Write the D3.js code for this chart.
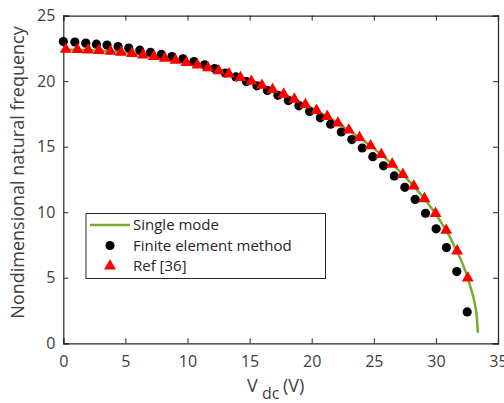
<!DOCTYPE html>
<html>
<head>
<meta charset="utf-8">
<script src="https://cdn.jsdelivr.net/npm/d3@7"></script>
<style>
  body { margin: 0; background: #fff; }
  svg { display: block; font-family: "Open Sans", sans-serif; }
</style>
</head>
<body>
<svg id="chart" width="504" height="403"></svg>
<script>
// Single mode curve (green line)
const singleV = [0, 2, 4, 6, 8, 10, 12, 14, 16, 18, 20, 22, 24, 25, 26, 27, 28, 29, 30, 31, 32, 32.5, 33, 33.2, 33.3, 33.38];
const singleF = [22.42, 22.38, 22.26, 22.06, 21.77, 21.39, 20.92, 20.36, 19.68, 18.89, 17.96, 16.87, 15.59, 14.87, 14.07, 13.2, 12.22, 11.12, 9.86, 8.35, 6.42, 5.2, 3.6, 2.7, 2.0, 0.8];

// Finite element method (black dots)
const femV = [0, 0.93, 1.81, 2.67, 3.52, 4.41, 5.27, 6.16, 7.02, 7.9, 8.75, 9.64, 10.52, 11.38, 12.19, 13.05, 13.9, 14.74, 15.59, 16.43,
  17.28, 18.12, 18.97, 19.83, 20.69, 21.52, 22.38, 23.23, 24.07, 24.92, 25.78, 26.65, 27.5, 28.33, 29.16, 30.02, 30.85, 31.68, 32.52];
const femF = [23.02, 22.98, 22.9, 22.82, 22.75, 22.64, 22.52, 22.36, 22.2, 22.04, 21.88, 21.7, 21.5, 21.25, 20.96, 20.62, 20.32, 19.97, 19.64, 19.28,
  18.92, 18.52, 18.12, 17.68, 17.2, 16.72, 16.12, 15.54, 14.9, 14.24, 13.54, 12.77, 11.9, 10.98, 9.92, 8.73, 7.3, 5.47, 2.39];

// Ref [36] (red triangles)
const refV = [0.2, 1.14, 2.0, 2.88, 3.8, 4.65, 5.53, 6.42, 7.3, 8.17, 9.03, 9.91, 10.8, 11.65, 12.51, 13.34, 14.26, 15.14, 15.99,
  16.85, 17.74, 18.6, 19.49, 20.39, 21.25, 22.11, 22.99, 23.85, 24.74, 25.6, 26.48, 27.34, 28.22, 29.08, 29.97, 30.83, 31.71, 32.57];
const refF = [22.42, 22.41, 22.38, 22.34, 22.27, 22.2, 22.11, 22.0, 21.88, 21.74, 21.59, 21.41, 21.22, 21.01, 20.79, 20.55, 20.27, 19.98, 19.68,
  19.36, 19.0, 18.62, 18.21, 17.76, 17.3, 16.8, 16.26, 15.69, 15.06, 14.4, 13.66, 12.88, 11.99, 11.03, 9.9, 8.62, 7.04, 4.97];

const xTicks = [0, 5, 10, 15, 20, 25, 30, 35];
const yTicks = [0, 5, 10, 15, 20, 25];
const legendLabels = ["Single mode", "Finite element method", "Ref [36]"];

const svg = d3.select("#chart");
const plotLeft = 63.3, plotRight = 498, plotTop = 15.6, plotBottom = 343.3;

const x = d3.scaleLinear().domain([0, 35]).range([plotLeft, plotRight]);
const y = d3.scaleLinear().domain([0, 25]).range([plotBottom, plotTop]);

const axisColor = "#262626";
const labelColor = "#404040";

// axes (ticks inward, box)
const tickLen = 5;
const gx = svg.append("g").attr("transform", `translate(0,${plotBottom})`)
  .call(d3.axisBottom(x).tickValues(xTicks).tickSize(-tickLen).tickPadding(12));
const gxTop = svg.append("g").attr("transform", `translate(0,${plotTop})`)
  .call(d3.axisTop(x).tickValues(xTicks).tickSize(-tickLen).tickFormat(""));
const gy = svg.append("g").attr("transform", `translate(${plotLeft},0)`)
  .call(d3.axisLeft(y).tickValues(yTicks).tickSize(-tickLen).tickPadding(8));
const gyRight = svg.append("g").attr("transform", `translate(${plotRight},0)`)
  .call(d3.axisRight(y).tickValues(yTicks).tickSize(-tickLen).tickFormat(""));

[gx, gxTop, gy, gyRight].forEach(g => {
  g.select(".domain").attr("stroke", axisColor).attr("stroke-width", 1.2);
  g.selectAll(".tick line").attr("stroke", axisColor).attr("stroke-width", 1);
  g.selectAll(".tick text").attr("fill", labelColor)
    .style("font-size", "16px").style("font-family", "Open Sans, sans-serif");
});
gx.selectAll(".tick text").attr("dy", "0.71em");
svg.selectAll(".domain").attr("stroke-linecap", "square");

// data series
const line = d3.line().x(d => x(d[0])).y(d => y(d[1]));
svg.append("path")
  .datum(d3.zip(singleV, singleF))
  .attr("d", line)
  .attr("fill", "none")
  .attr("stroke", "#77AC30")
  .attr("stroke-width", 2.5);

svg.append("g").selectAll("circle")
  .data(d3.zip(femV, femF))
  .join("circle")
  .attr("cx", d => x(d[0]))
  .attr("cy", d => y(d[1]))
  .attr("r", 4.6)
  .attr("fill", "#000");

const tri = d3.symbol().type(d3.symbolTriangle).size(62);
svg.append("g").selectAll("path")
  .data(d3.zip(refV, refF))
  .join("path")
  .attr("d", tri)
  .attr("transform", d => `translate(${x(d[0])},${y(d[1])})`)
  .attr("fill", "#ff0000");

// legend
const lg = svg.append("g");
lg.append("rect")
  .attr("x", 86).attr("y", 213.5).attr("width", 239.5).attr("height", 65)
  .attr("fill", "#fff").attr("stroke", axisColor).attr("stroke-width", 1);
const rowY = [225, 245.5, 266];
lg.append("line").attr("x1", 90).attr("x2", 130).attr("y1", rowY[0]).attr("y2", rowY[0])
  .attr("stroke", "#77AC30").attr("stroke-width", 2.5);
lg.append("circle").attr("cx", 110).attr("cy", rowY[1]).attr("r", 4.6).attr("fill", "#000");
lg.append("path").attr("d", tri).attr("transform", `translate(110,${rowY[2]})`).attr("fill", "#ff0000");
lg.selectAll("text.leg")
  .data(legendLabels)
  .join("text")
  .attr("class", "leg")
  .attr("x", 133)
  .attr("y", (d, i) => rowY[i])
  .attr("dy", "0.35em")
  .attr("fill", "#262626")
  .style("font-size", "15px")
  .text(d => d);

// axis labels
svg.append("text")
  .attr("transform", `translate(24,${(plotTop + plotBottom) / 2 - 7}) rotate(-90)`)
  .attr("text-anchor", "middle")
  .attr("fill", labelColor)
  .style("font-size", "18px")
  .text("Nondimensional natural frequency");

const xl = svg.append("text")
  .attr("x", 247)
  .attr("y", 392)
  .attr("fill", labelColor)
  .style("font-size", "18px");
xl.append("tspan").text("V");
xl.append("tspan").attr("x", 262).attr("dy", 7).style("font-size", "16px").text("dc");
xl.append("tspan").attr("x", 283).attr("dy", -7).text("(V)");
</script>
</body>
</html>
